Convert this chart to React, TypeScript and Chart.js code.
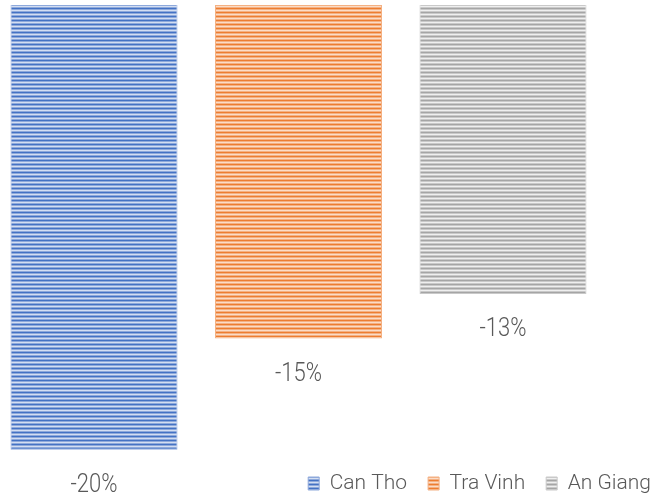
import React, { useEffect, useRef } from "react";
import { Chart, registerables } from "chart.js";

Chart.register(...registerables);

const categories: string[] = [""];
const seriesNames: string[] = ["Can Tho", "Tra Vinh", "An Giang"];
const canTho: number[] = [-20];
const traVinh: number[] = [-15];
const anGiang: number[] = [-13];
const darkColors: string[] = ["#4472C4", "#ED7D31", "#A5A5A5"];
const lightColors: string[] = ["#D3DEF2", "#FBDCC7", "#EFEFEF"];
const midColors: string[] = ["#8EA9DB", "#F4B183", "#C9C9C9"];

const FONT = "Roboto, 'Liberation Sans', sans-serif";

function makePattern(dark: string, mid: string, light: string): CanvasPattern | string {
  const c = document.createElement("canvas");
  c.width = 4;
  c.height = 4;
  const ctx = c.getContext("2d");
  if (!ctx) return dark;
  const rows = [dark, mid, light, mid];
  rows.forEach((col, i) => {
    ctx.fillStyle = col;
    ctx.fillRect(0, i, 4, 1);
  });
  return ctx.createPattern(c, "repeat") || dark;
}

const labelPlugin = {
  id: "valueLabels",
  afterDatasetsDraw(chart: any) {
    const ctx = chart.ctx;
    chart.data.datasets.forEach((ds: any, i: number) => {
      const meta = chart.getDatasetMeta(i);
      meta.data.forEach((bar: any, j: number) => {
        const v = ds.data[j];
        ctx.save();
        ctx.translate(bar.x, bar.y + 36);
        ctx.scale(0.88, 1);
        ctx.font = `300 25px ${FONT}`;
        ctx.fillStyle = "#595959";
        ctx.textAlign = "center";
        ctx.textBaseline = "middle";
        ctx.fillText(`${v}%`, 0, 0);
        ctx.restore();
      });
    });
  },
};

export default function App() {
  const ref = useRef<HTMLCanvasElement | null>(null);
  useEffect(() => {
    if (!ref.current) return;
    const values = [canTho, traVinh, anGiang];
    const chart = new Chart(ref.current, {
      type: "bar",
      data: {
        labels: categories,
        datasets: seriesNames.map((name, i) => ({
          label: name,
          data: values[i],
          backgroundColor: makePattern(darkColors[i], midColors[i], lightColors[i]) as any,
          borderColor: midColors[i],
          borderWidth: 1,
          categoryPercentage: 1.0276,
          barPercentage: 0.8166,
          clip: false as any,
        })),
      },
      options: {
        animation: false,
        responsive: false,
        layout: { padding: { left: 0, right: -18, top: 5, bottom: -5 } },
        scales: {
          x: { display: false },
          y: {
            position: "right",
            min: -20.1,
            max: 0,
            grid: { display: false },
            border: { display: false },
            ticks: { display: false },
            afterFit: (s: any) => {
              s.width = 75;
            },
          },
        },
        plugins: {
          legend: {
            position: "bottom",
            align: "end",
            labels: {
              boxWidth: 11,
              boxHeight: 13,
              padding: 21,
              color: "#595959",
              font: { family: FONT, size: 21, weight: 300 as any },
            },
          },
          tooltip: { enabled: false },
        },
      },
      plugins: [labelPlugin],
    });
    return () => chart.destroy();
  }, []);
  return (
    <div style={{ position: "fixed", left: 0, top: 0, width: 654, height: 499, background: "#fff" }}>
      <canvas ref={ref} width={654} height={499} />
    </div>
  );
}
